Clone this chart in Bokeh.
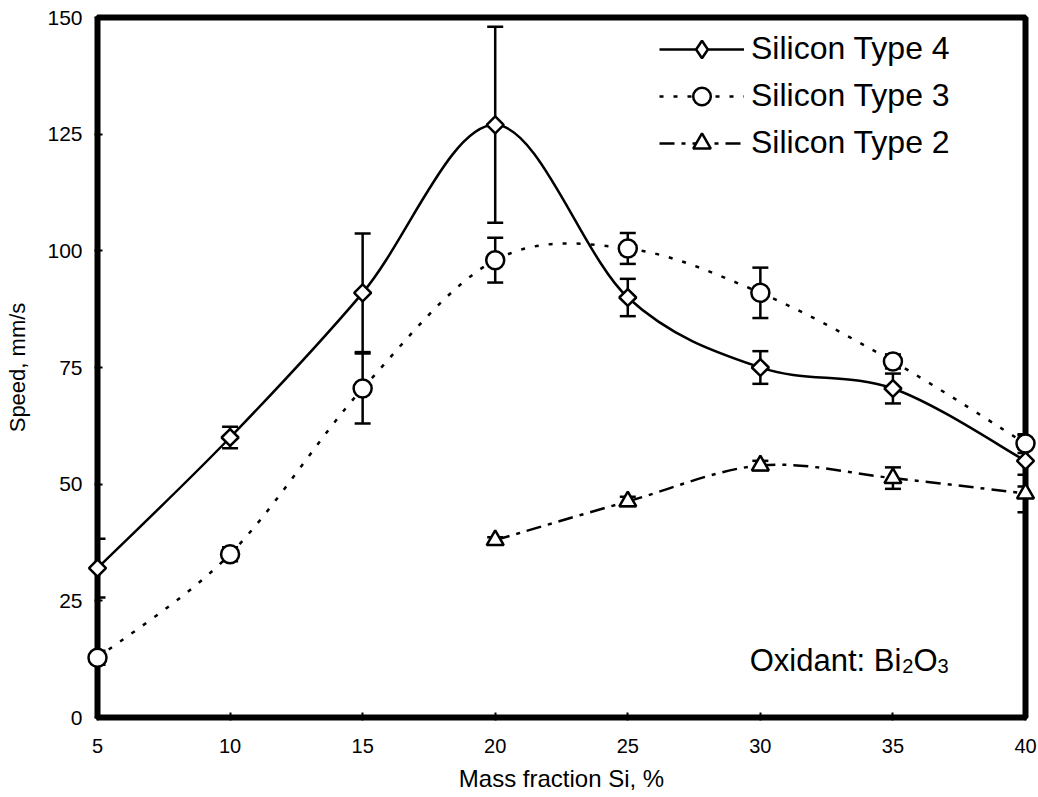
import numpy as np
from bokeh.plotting import figure
from bokeh.models import (ColumnDataSource, Whisker, TeeHead, Legend, LegendItem,
                          FixedTicker, Range1d, Label)
from bokeh.embed import file_html
from bokeh.resources import INLINE

# ---------------- data ----------------
x_type4 = [5, 10, 15, 20, 25, 30, 35, 40]
y_type4 = [32, 60, 91, 127, 90, 75, 70.5, 55]
err_type4 = [6.3, 2.3, 12.7, 21, 4, 3.5, 3.2, 5.5]

x_type3 = [5, 10, 15, 20, 25, 30, 35, 40]
y_type3 = [12.8, 35, 70.5, 98, 100.5, 91, 76.3, 58.7]
err_type3 = [1.5, 1.5, 7.5, 4.8, 3.3, 5.4, 1.5, 2]

x_type2 = [20, 25, 30, 35, 40]
y_type2 = [38, 46.3, 54, 51.3, 48]
err_type2 = [0.6, 1.0, 1.0, 2.3, 4]

series_names = ["Silicon Type 4", "Silicon Type 3", "Silicon Type 2"]
x_ticks = [5, 10, 15, 20, 25, 30, 35, 40]
y_ticks = [0, 25, 50, 75, 100, 125, 150]

FONT = "Liberation Sans"


def smooth_segments(xs, ys):
    """Bezier segments of a smoothed (Catmull-Rom) line through the data points."""
    xs = np.asarray(xs, float)
    ys = np.asarray(ys, float)
    n = len(xs)
    xp = np.concatenate([[xs[0]], xs, [xs[-1]]])
    yp = np.concatenate([[ys[0]], ys, [ys[-1]]])
    return dict(
        x0=xp[1:n], y0=yp[1:n],
        x1=xp[2:n + 1], y1=yp[2:n + 1],
        cx0=xp[1:n] + (xp[2:n + 1] - xp[0:n - 1]) / 6.0,
        cy0=yp[1:n] + (yp[2:n + 1] - yp[0:n - 1]) / 6.0,
        cx1=xp[2:n + 1] - (xp[3:n + 2] - xp[1:n]) / 6.0,
        cy1=yp[2:n + 1] - (yp[3:n + 2] - yp[1:n]) / 6.0,
    )


p = figure(width=1038, height=797,
           x_range=Range1d(5, 40), y_range=Range1d(0, 150),
           output_backend="svg", toolbar_location=None,
           min_border_left=97, min_border_right=13,
           min_border_top=17, min_border_bottom=80)
p.background_fill_color = "white"
p.border_fill_color = "white"
p.grid.visible = False
p.outline_line_color = "black"
p.outline_line_width = 6

p.xaxis.ticker = FixedTicker(ticks=x_ticks, minor_ticks=[])
p.yaxis.ticker = FixedTicker(ticks=y_ticks, minor_ticks=[])
for ax in (p.xaxis[0], p.yaxis[0]):
    ax.axis_line_color = None
    ax.major_tick_line_color = "black"
    ax.major_tick_line_width = 2
    ax.major_tick_in = 5
    ax.major_tick_out = 3
    ax.minor_tick_line_color = None
    ax.major_label_text_font = FONT
    ax.major_label_text_color = "black"
    ax.axis_label_text_font = FONT
    ax.axis_label_text_font_style = "normal"
    ax.axis_label_text_color = "black"

p.xaxis.major_label_text_font_size = "20px"
p.yaxis.major_label_text_font_size = "21px"
p.xaxis.major_label_standoff = 18
p.yaxis.major_label_standoff = 12
p.xaxis.axis_label = "Mass fraction Si, %"
p.yaxis.axis_label = "Speed, mm/s"
p.xaxis.axis_label_text_font_size = "24px"
p.yaxis.axis_label_text_font_size = "22px"
p.xaxis.axis_label_standoff = 9
p.yaxis.axis_label_standoff = 14

styles = [
    dict(x=x_type4, y=y_type4, e=err_type4, dash="solid", marker="square",
         angle=np.pi / 4, size=12, legend_marker="diamond"),
    dict(x=x_type3, y=y_type3, e=err_type3, dash="4 10", marker="circle",
         angle=0, size=18, legend_marker="circle"),
    dict(x=x_type2, y=y_type2, e=err_type2, dash="15 7 4 7", marker="triangle",
         angle=0, size=17, legend_marker="triangle"),
]

items = []
for name, st in zip(series_names, styles):
    seg = ColumnDataSource(smooth_segments(st["x"], st["y"]))
    curve = p.bezier(x0="x0", y0="y0", x1="x1", y1="y1", cx0="cx0", cy0="cy0",
                     cx1="cx1", cy1="cy1", source=seg, line_color="black",
                     line_width=2.5, line_dash=st["dash"])
    ys = np.asarray(st["y"], float)
    es = np.asarray(st["e"], float)
    src = ColumnDataSource(dict(x=st["x"], y=st["y"], upper=ys + es, lower=ys - es))
    wh = Whisker(base="x", upper="upper", lower="lower", source=src,
                 dimension="height", level="annotation",
                 line_color="black", line_width=2.5,
                 upper_head=TeeHead(size=16, line_width=2.5, line_color="black"),
                 lower_head=TeeHead(size=16, line_width=2.5, line_color="black"))
    p.add_layout(wh)
    pts = p.scatter(x="x", y="y", source=src, marker=st["marker"], size=st["size"],
                    angle=st["angle"], fill_color="white", line_color="black",
                    line_width=2.5, level="overlay")
    # legend-only marker (hidden renderer, drawn only as the legend glyph)
    proxy = p.scatter(x="x", y="y", source=src, marker=st["legend_marker"],
                      fill_color="white", line_color="black", line_width=2.5,
                      visible=False)
    items.append(LegendItem(label=name, renderers=[curve, proxy]))

legend = Legend(items=items, location=(562, 551),
                border_line_color=None, background_fill_alpha=0,
                inactive_fill_alpha=0,
                glyph_width=85, glyph_height=44, label_height=47,
                label_standoff=7, spacing=0, padding=0, margin=0,
                label_text_font=FONT, label_text_font_size="32px",
                label_text_color="black")
p.add_layout(legend)

# "Oxidant: Bi2O3" with subscripts
lab_x, lab_y = 29.6, 12.3
main_size, sub_size = 31, 20
w_main = main_size * 4.891   # width of "Oxidant: Bi"
w_sub = sub_size * 0.556
w_o = main_size * 0.778
parts = [("Oxidant: Bi", main_size, 0, 0.0),
         ("2", sub_size, -6, w_main + 1),
         ("O", main_size, 0, w_main + w_sub + 1),
         ("3", sub_size, -6, w_main + w_sub + w_o + 1)]
for txt, fs, dy, dx in parts:
    p.add_layout(Label(x=lab_x, y=lab_y, text=txt, x_offset=dx, y_offset=dy,
                       text_font=FONT, text_font_size=f"{fs}px",
                       text_color="black", text_baseline="alphabetic"))

open("out.html", "w").write(file_html(p, INLINE))
